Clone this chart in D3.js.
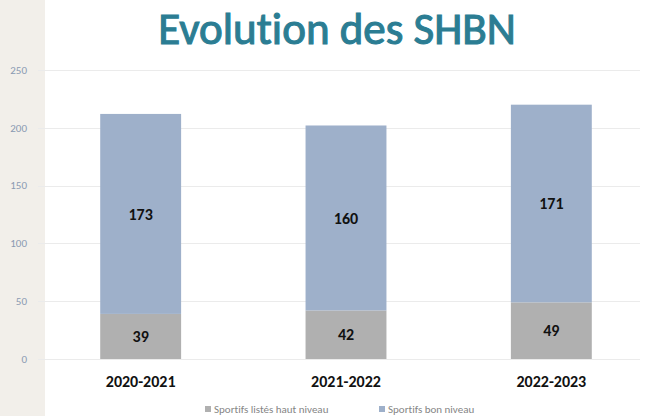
<!DOCTYPE html>
<html>
<head>
<meta charset="utf-8">
<script src="https://cdn.jsdelivr.net/npm/d3@7"></script>
<style>
  body { margin: 0; background: #fff; }
  svg { display: block; font-variant-ligatures: none; }
</style>
</head>
<body>
<svg id="chart"></svg>
<script>
// Evolution des SHBN - stacked bars

const seasons = ["2020-2021", "2021-2022", "2022-2023"];
const listes = [39, 42, 49];       // Sportifs listés haut niveau
const bonNiveau = [173, 160, 171];  // Sportifs bon niveau
const seriesNames = ["Sportifs listés haut niveau", "Sportifs bon niveau"];
const yTicks = [0, 50, 100, 150, 200, 250];

const width = 646, height = 416;
const colors = ["#b0b0b0", "#9eb0ca"];

const svg = d3.select("#chart")
	.attr("width", width)
	.attr("height", height)
	.style("font-family", "Carlito, 'Open Sans', sans-serif");

// beige strip on the left
svg.append("rect")
	.attr("x", 0).attr("y", 0)
	.attr("width", 45).attr("height", height)
	.attr("fill", "#f2efea");

const x = d3.scaleBand()
	.domain(seasons)
	.range([38, 654])
	.paddingInner(0.606)
	.paddingOuter(0.303);

const y = d3.scaleLinear()
	.domain([0, 250])
	.range([359, 70]);

// gridlines
svg.append("g")
	.selectAll("line")
	.data(yTicks)
	.join("line")
	.attr("x1", 38)
	.attr("x2", 640)
	.attr("y1", d => Math.round(y(d)) + 0.5)
	.attr("y2", d => Math.round(y(d)) + 0.5)
	.attr("stroke", "#ebebeb")
	.attr("stroke-width", 1);

// y tick labels
svg.append("g")
	.selectAll("text")
	.data(yTicks)
	.join("text")
	.attr("x", 27)
	.attr("y", d => y(d))
	.attr("dy", "0.35em")
	.attr("text-anchor", "end")
	.attr("fill", "#8a9ab2")
	.attr("font-size", 11)
	.text(d => d);

const stackData = seasons.map((s, i) => ({ season: s, a: listes[i], b: bonNiveau[i] }));
const stack = d3.stack().keys(["a", "b"])(stackData);

const layers = svg.append("g")
	.selectAll("g")
	.data(stack)
	.join("g")
	.attr("fill", (d, i) => colors[i]);

layers.selectAll("rect")
	.data(d => d)
	.join("rect")
	.attr("x", d => x(d.data.season))
	.attr("width", x.bandwidth())
	.attr("y", d => y(d[1]))
	.attr("height", d => y(d[0]) - y(d[1]));

// value labels
layers.selectAll("text")
	.data(d => d)
	.join("text")
	.attr("x", d => x(d.data.season) + x.bandwidth() / 2)
	.attr("y", d => (y(d[0]) + y(d[1])) / 2)
	.attr("dy", "0.35em")
	.attr("text-anchor", "middle")
	.attr("fill", "#111")
	.attr("font-size", 16)
	.attr("font-weight", "bold")
	.text(d => d[1] - d[0]);

// category labels
svg.append("g")
	.selectAll("text")
	.data(seasons)
	.join("text")
	.attr("x", d => x(d) + x.bandwidth() / 2)
	.attr("y", 381)
	.attr("dy", "0.35em")
	.attr("text-anchor", "middle")
	.attr("fill", "#111")
	.attr("font-size", 16)
	.attr("font-weight", "bold")
	.text(d => d);

// title (regular weight, thickened a little with a stroke)
svg.append("text")
	.attr("x", 337)
	.attr("y", 44)
	.attr("text-anchor", "middle")
	.attr("fill", "#2b7d93")
	.attr("stroke", "#2b7d93")
	.attr("stroke-width", 1.1)
	.attr("font-size", 45)
	.attr("font-weight", "normal")
	.text("Evolution des SHBN");

// legend
const legendX = [205, 379];
const legend = svg.append("g")
	.selectAll("g")
	.data(seriesNames)
	.join("g")
	.attr("transform", (d, i) => `translate(${legendX[i]},409)`);

legend.append("rect")
	.attr("x", 0).attr("y", -3)
	.attr("width", 6).attr("height", 6)
	.attr("fill", (d, i) => colors[i]);

legend.append("text")
	.attr("x", 9)
	.attr("dy", "0.35em")
	.attr("fill", "#858585")
	.attr("font-size", 11)
	.text(d => d);
</script>
</body>
</html>
